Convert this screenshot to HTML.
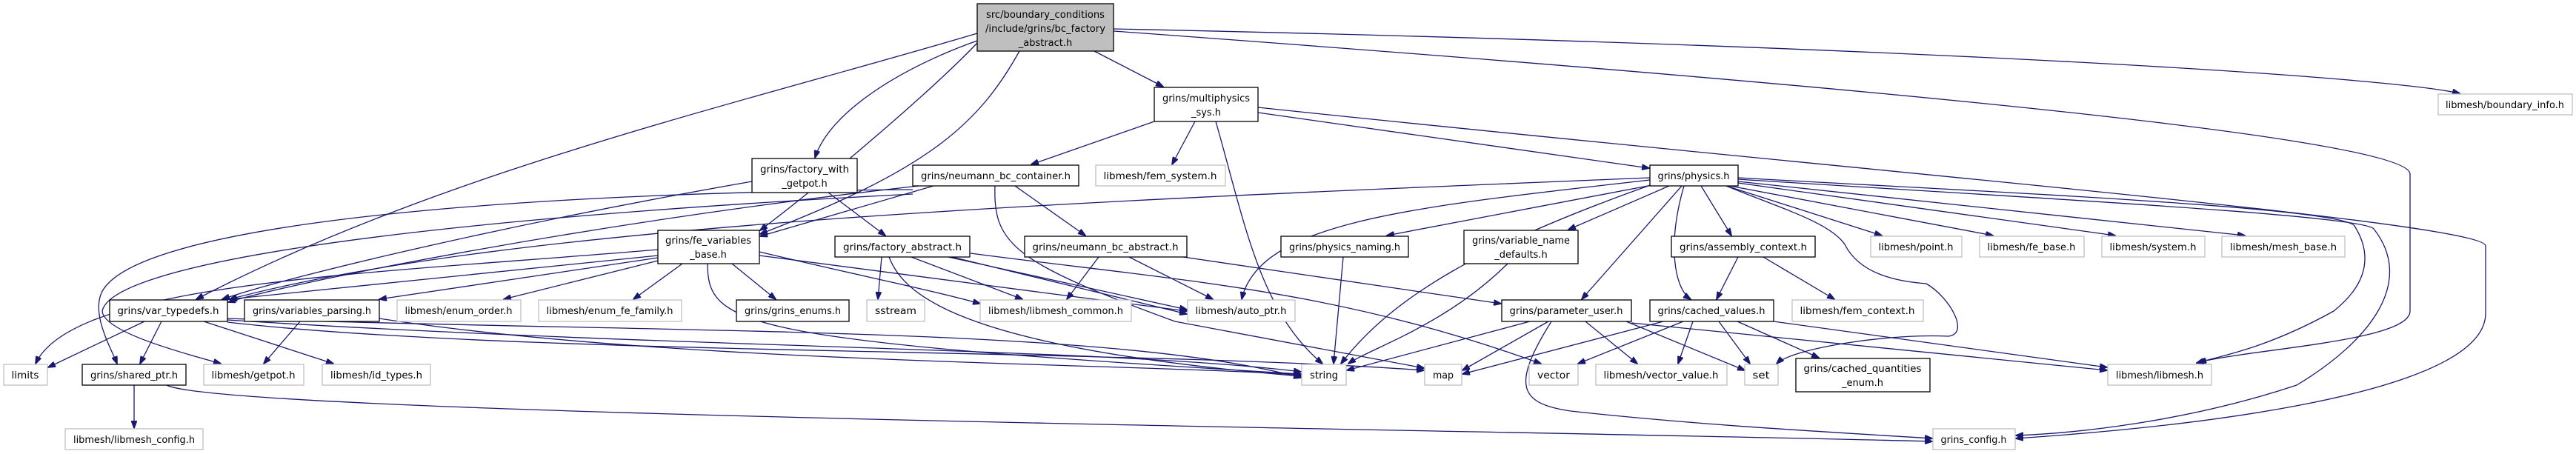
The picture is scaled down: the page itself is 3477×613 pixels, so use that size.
<!DOCTYPE html>
<html><head><meta charset="utf-8"><style>
html,body{margin:0;padding:0;background:#fff;}
svg{display:block;}
text{font-family:"DejaVu Sans","Liberation Sans",sans-serif;font-size:13px;fill:#000;}
.e{fill:none;stroke:#191970;stroke-width:1.3;marker-end:url(#a);}
.g{fill:#fff;stroke:#bfbfbf;stroke-width:1.3;}
.b{fill:#fff;stroke:#000;stroke-width:1.3;}
</style></head><body>
<svg width="3477" height="613" viewBox="0 0 3477 613" xmlns="http://www.w3.org/2000/svg">
<defs><marker id="a" markerWidth="11" markerHeight="8" refX="10" refY="4" orient="auto" markerUnits="userSpaceOnUse"><path d="M0,0 L11,4 L0,8 z" fill="#191970" stroke="#191970"/></marker></defs>
<g>
<!-- top -->
<path class="e" d="M1477,69 L1570,117"/>
<path class="e" d="M1319,55 C1220,90 1120,150 1100,213"/>
<path class="e" d="M1319,58 C1260,120 1120,240 1026,311"/>
<path class="e" d="M1319,45 C1000,140 600,230 265,404"/>
<path class="e" d="M1376,69 C1320,170 1250,230 1026,316"/>
<path class="e" d="M1503,39 C2500,60 3200,100 3320,126"/>
<path class="e" d="M1503,42 C2300,100 3253,180 3253,235 L3253,420 C3253,460 3050,470 2968,489"/>
<!-- multiphysics -->
<path class="e" d="M1558,164 L1392,222"/>
<path class="e" d="M1613,164 L1582,222"/>
<path class="e" d="M1641,164 C1680,300 1700,420 1785,491"/>
<path class="e" d="M1698,152 L2226,227"/>
<path class="e" d="M1698,145 C2500,230 3355,300 3355,332 L3355,423 C3355,540 2900,580 2721,592"/>
<!-- neumann_bc_container -->
<path class="e" d="M1260,251 L1026,319"/>
<path class="e" d="M1240,251 C800,300 400,380 308,408"/>
<path class="e" d="M1370,251 L1465,318"/>
<path class="e" d="M1343,251 C1340,330 1370,355 1586,434 L1922,497"/>
<path class="e" d="M1232,256 C700,260 200,300 140,390 C120,420 150,470 158,491"/>
<path class="e" d="M1232,262 C500,300 150,360 138,420 C140,450 260,480 298,491"/>
<!-- factory_with_getpot -->
<path class="e" d="M1015,245 C700,300 400,370 300,404"/>
<path class="e" d="M1118,260 L1195,318"/>
<!-- fe_variables_base -->
<path class="e" d="M888,337 C500,370 100,380 48,491"/>
<path class="e" d="M888,345 L310,404"/>
<path class="e" d="M888,348 L512,404"/>
<path class="e" d="M888,352 L680,404"/>
<path class="e" d="M921,356 L855,404"/>
<path class="e" d="M988,356 L1047,404"/>
<path class="e" d="M955,356 C955,440 1000,460 1756,505"/>
<path class="e" d="M1025,345 C1300,380 1400,395 1602,420"/>
<path class="e" d="M1025,340 C1150,370 1250,390 1323,410"/>
<!-- factory_abstract -->
<path class="e" d="M1190,347 L1185,404"/>
<path class="e" d="M1200,347 C1220,400 1300,470 1756,508"/>
<path class="e" d="M1230,347 L1380,404"/>
<path class="e" d="M1280,347 L1602,418"/>
<path class="e" d="M1285,347 L1602,424"/>
<path class="e" d="M1310,342 C1600,380 1800,390 2080,491"/>
<!-- neumann_bc_abstract -->
<path class="e" d="M1483,347 L1440,404"/>
<path class="e" d="M1524,347 L1637,404"/>
<path class="e" d="M1597,347 L2026,410"/>
<!-- physics_naming, variable_name_defaults -->
<path class="e" d="M1813,347 L1800,491"/>
<path class="e" d="M2035,356 C1950,440 1850,470 1820,491"/>
<!-- physics -->
<path class="e" d="M2227,240 C1500,270 700,300 310,404"/>
<path class="e" d="M2227,243 C1900,280 1700,300 1676,404"/>
<path class="e" d="M2240,248 L1872,318"/>
<path class="e" d="M2253,251 L2117,310"/>
<path class="e" d="M2236,247 C2000,330 1880,400 1810,491"/>
<path class="e" d="M2270,251 L2135,404"/>
<path class="e" d="M2296,251 L2337,318"/>
<path class="e" d="M2273,251 C2250,330 2260,390 2282,404"/>
<path class="e" d="M2330,251 L2540,318"/>
<path class="e" d="M2335,251 L2690,318"/>
<path class="e" d="M2346,247 L2855,318"/>
<path class="e" d="M2346,245 L3030,318"/>
<path class="e" d="M2346,240 C2700,260 3160,280 3178,305 C3200,340 3200,380 3150,420 C3060,470 3000,480 2965,490"/>
<path class="e" d="M2346,242 C2700,265 3190,290 3204,309 C3260,380 3200,460 3100,520 C2950,570 2800,585 2721,588"/>
<path class="e" d="M2330,251 C2400,280 2470,300 2490,330 C2510,370 2560,380 2600,383 C2630,400 2660,450 2630,454 C2550,450 2420,470 2398,491"/>
<!-- assembly_context -->
<path class="e" d="M2346,347 L2317,404"/>
<path class="e" d="M2380,347 L2476,404"/>
<!-- parameter_user -->
<path class="e" d="M2065,434 L1818,500"/>
<path class="e" d="M2090,434 L1974,500"/>
<path class="e" d="M2140,434 L2210,491"/>
<path class="e" d="M2195,434 L2355,500"/>
<path class="e" d="M2094,434 C2040,520 2050,545 2120,555 C2300,575 2500,585 2608,592"/>
<path class="e" d="M2202,436 L2844,500"/>
<!-- cached_values -->
<path class="e" d="M2245,434 L1974,505"/>
<path class="e" d="M2272,434 L2130,491"/>
<path class="e" d="M2285,434 L2265,491"/>
<path class="e" d="M2320,434 L2362,491"/>
<path class="e" d="M2345,434 L2455,483"/>
<path class="e" d="M2394,434 L2844,496"/>
<!-- var_typedefs -->
<path class="e" d="M195,434 L65,496"/>
<path class="e" d="M218,434 L189,491"/>
<path class="e" d="M275,434 L450,491"/>
<path class="e" d="M307,432 C900,470 1500,470 1756,502"/>
<path class="e" d="M307,435 C700,480 1500,470 1922,500"/>
<path class="e" d="M307,430 C900,450 1500,440 1756,510"/>
<!-- variables_parsing -->
<path class="e" d="M405,434 L356,491"/>
<path class="e" d="M512,430 C900,490 1500,490 1756,506"/>
<!-- shared_ptr -->
<path class="e" d="M181,520 L181,578"/>
<path class="e" d="M225,520 C300,560 2000,580 2608,596"/>
</g>
<g>
<rect x="1319" y="5" width="184" height="64" fill="#bfbfbf" stroke="#000" stroke-width="1.3"/>
<text x="1411" y="24" text-anchor="middle" textLength="160" lengthAdjust="spacingAndGlyphs">src/boundary_conditions</text>
<text x="1411" y="43" text-anchor="middle" textLength="162" lengthAdjust="spacingAndGlyphs">/include/grins/bc_factory</text>
<text x="1411" y="62" text-anchor="middle">_abstract.h</text>

<rect class="b" x="1558" y="118" width="140" height="46"/>
<text x="1628" y="137" text-anchor="middle" textLength="118" lengthAdjust="spacingAndGlyphs">grins/multiphysics</text>
<text x="1628" y="156" text-anchor="middle">_sys.h</text>

<rect class="b" x="1015" y="214" width="142" height="46"/>
<text x="1086" y="233" text-anchor="middle" textLength="120" lengthAdjust="spacingAndGlyphs">grins/factory_with</text>
<text x="1086" y="252" text-anchor="middle">_getpot.h</text>

<rect class="b" x="1232" y="223" width="224" height="28"/>
<text x="1344" y="242" text-anchor="middle" textLength="202" lengthAdjust="spacingAndGlyphs">grins/neumann_bc_container.h</text>
<rect class="g" x="1479" y="223" width="175" height="28"/>
<text x="1566" y="242" text-anchor="middle" textLength="153" lengthAdjust="spacingAndGlyphs">libmesh/fem_system.h</text>
<rect class="b" x="2227" y="223" width="119" height="28"/>
<text x="2286" y="242" text-anchor="middle" textLength="97" lengthAdjust="spacingAndGlyphs">grins/physics.h</text>
<rect class="g" x="3291" y="127" width="181" height="28"/>
<text x="3381" y="146" text-anchor="middle" textLength="160" lengthAdjust="spacingAndGlyphs">libmesh/boundary_info.h</text>

<rect class="b" x="888" y="311" width="137" height="45"/>
<text x="956" y="329" text-anchor="middle" textLength="116" lengthAdjust="spacingAndGlyphs">grins/fe_variables</text>
<text x="956" y="348" text-anchor="middle">_base.h</text>
<rect class="b" x="1127" y="319" width="182" height="28"/>
<text x="1218" y="338" text-anchor="middle" textLength="160" lengthAdjust="spacingAndGlyphs">grins/factory_abstract.h</text>
<rect class="b" x="1383" y="319" width="219" height="28"/>
<text x="1492" y="338" text-anchor="middle" textLength="197" lengthAdjust="spacingAndGlyphs">grins/neumann_bc_abstract.h</text>
<rect class="b" x="1729" y="319" width="172" height="28"/>
<text x="1815" y="338" text-anchor="middle" textLength="150" lengthAdjust="spacingAndGlyphs">grins/physics_naming.h</text>
<rect class="b" x="1976" y="311" width="154" height="45"/>
<text x="2053" y="329" text-anchor="middle" textLength="132" lengthAdjust="spacingAndGlyphs">grins/variable_name</text>
<text x="2053" y="348" text-anchor="middle">_defaults.h</text>
<rect class="b" x="2256" y="319" width="194" height="28"/>
<text x="2353" y="338" text-anchor="middle" textLength="172" lengthAdjust="spacingAndGlyphs">grins/assembly_context.h</text>
<rect class="g" x="2525" y="319" width="123" height="28"/>
<text x="2586" y="338" text-anchor="middle" textLength="101" lengthAdjust="spacingAndGlyphs">libmesh/point.h</text>
<rect class="g" x="2672" y="319" width="141" height="28"/>
<text x="2742" y="338" text-anchor="middle" textLength="119" lengthAdjust="spacingAndGlyphs">libmesh/fe_base.h</text>
<rect class="g" x="2837" y="319" width="139" height="28"/>
<text x="2906" y="338" text-anchor="middle" textLength="117" lengthAdjust="spacingAndGlyphs">libmesh/system.h</text>
<rect class="g" x="2999" y="319" width="166" height="28"/>
<text x="3082" y="338" text-anchor="middle" textLength="144" lengthAdjust="spacingAndGlyphs">libmesh/mesh_base.h</text>

<rect class="b" x="148" y="405" width="159" height="29"/>
<text x="227" y="424" text-anchor="middle" textLength="137" lengthAdjust="spacingAndGlyphs">grins/var_typedefs.h</text>
<rect class="b" x="330" y="405" width="182" height="29"/>
<text x="421" y="424" text-anchor="middle" textLength="160" lengthAdjust="spacingAndGlyphs">grins/variables_parsing.h</text>
<rect class="g" x="536" y="405" width="167" height="29"/>
<text x="619" y="424" text-anchor="middle" textLength="145" lengthAdjust="spacingAndGlyphs">libmesh/enum_order.h</text>
<rect class="g" x="727" y="405" width="193" height="29"/>
<text x="823" y="424" text-anchor="middle" textLength="171" lengthAdjust="spacingAndGlyphs">libmesh/enum_fe_family.h</text>
<rect class="b" x="994" y="405" width="152" height="29"/>
<text x="1070" y="424" text-anchor="middle" textLength="130" lengthAdjust="spacingAndGlyphs">grins/grins_enums.h</text>
<rect class="g" x="1170" y="405" width="78" height="29"/>
<text x="1209" y="424" text-anchor="middle" textLength="56" lengthAdjust="spacingAndGlyphs">sstream</text>
<rect class="g" x="1323" y="405" width="204" height="29"/>
<text x="1425" y="424" text-anchor="middle" textLength="182" lengthAdjust="spacingAndGlyphs">libmesh/libmesh_common.h</text>
<rect class="g" x="1603" y="405" width="145" height="29"/>
<text x="1675" y="424" text-anchor="middle" textLength="123" lengthAdjust="spacingAndGlyphs">libmesh/auto_ptr.h</text>
<rect class="b" x="2027" y="405" width="175" height="29"/>
<text x="2114" y="424" text-anchor="middle" textLength="153" lengthAdjust="spacingAndGlyphs">grins/parameter_user.h</text>
<rect class="b" x="2227" y="405" width="167" height="29"/>
<text x="2310" y="424" text-anchor="middle" textLength="145" lengthAdjust="spacingAndGlyphs">grins/cached_values.h</text>
<rect class="g" x="2419" y="405" width="177" height="29"/>
<text x="2507" y="424" text-anchor="middle" textLength="155" lengthAdjust="spacingAndGlyphs">libmesh/fem_context.h</text>

<rect class="g" x="5" y="492" width="59" height="28"/>
<text x="34" y="511" text-anchor="middle" textLength="37" lengthAdjust="spacingAndGlyphs">limits</text>
<rect class="b" x="111" y="492" width="140" height="28"/>
<text x="181" y="511" text-anchor="middle" textLength="118" lengthAdjust="spacingAndGlyphs">grins/shared_ptr.h</text>
<rect class="g" x="275" y="492" width="135" height="28"/>
<text x="342" y="511" text-anchor="middle" textLength="113" lengthAdjust="spacingAndGlyphs">libmesh/getpot.h</text>
<rect class="g" x="435" y="492" width="146" height="28"/>
<text x="508" y="511" text-anchor="middle" textLength="124" lengthAdjust="spacingAndGlyphs">libmesh/id_types.h</text>
<rect class="g" x="1757" y="492" width="60" height="28"/>
<text x="1787" y="511" text-anchor="middle" textLength="38" lengthAdjust="spacingAndGlyphs">string</text>
<rect class="g" x="1923" y="492" width="50" height="28"/>
<text x="1948" y="511" text-anchor="middle" textLength="28" lengthAdjust="spacingAndGlyphs">map</text>
<rect class="g" x="2064" y="492" width="66" height="28"/>
<text x="2097" y="511" text-anchor="middle" textLength="44" lengthAdjust="spacingAndGlyphs">vector</text>
<rect class="g" x="2154" y="492" width="177" height="28"/>
<text x="2242" y="511" text-anchor="middle" textLength="155" lengthAdjust="spacingAndGlyphs">libmesh/vector_value.h</text>
<rect class="g" x="2355" y="492" width="45" height="28"/>
<text x="2377" y="511" text-anchor="middle" textLength="23" lengthAdjust="spacingAndGlyphs">set</text>
<rect class="b" x="2424" y="484" width="181" height="45"/>
<text x="2514" y="502" text-anchor="middle" textLength="159" lengthAdjust="spacingAndGlyphs">grins/cached_quantities</text>
<text x="2514" y="521" text-anchor="middle">_enum.h</text>
<rect class="g" x="2845" y="492" width="140" height="28"/>
<text x="2915" y="511" text-anchor="middle" textLength="118" lengthAdjust="spacingAndGlyphs">libmesh/libmesh.h</text>
<rect class="g" x="88" y="579" width="186" height="28"/>
<text x="181" y="598" text-anchor="middle" textLength="164" lengthAdjust="spacingAndGlyphs">libmesh/libmesh_config.h</text>
<rect class="g" x="2609" y="579" width="111" height="28"/>
<text x="2664" y="598" text-anchor="middle" textLength="89" lengthAdjust="spacingAndGlyphs">grins_config.h</text>
</g>
</svg>
</body></html>
